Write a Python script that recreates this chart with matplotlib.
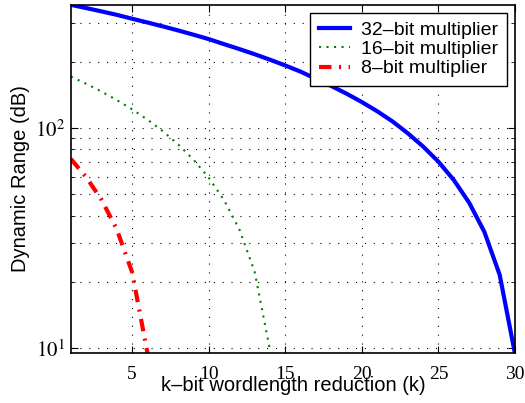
import numpy as np
import matplotlib
matplotlib.use("Agg")
import matplotlib.pyplot as plt
from matplotlib.ticker import LogLocator, NullFormatter

plt.rcParams['font.family'] = ['Liberation Sans', 'DejaVu Sans']
plt.rcParams['mathtext.fontset'] = 'stix'

# values (k = wordlength reduction)
k32 = list(range(1, 31))
dr32 = [362, 350, 338, 326, 313, 301, 289, 277, 265, 253,
        240, 228, 216, 204, 192, 180, 167, 155, 143, 131,
        119, 107, 94.5, 82.3, 70.2, 58.0, 45.8, 33.7, 21.5, 9.4]
k16 = list(range(1, 15))
dr16 = [171, 158.6, 146.2, 133.8, 121.4, 109, 96.6, 84.2, 71.8, 59.4,
        47.0, 34.6, 22.2, 9.8]
k8 = list(range(1, 7))
dr8 = [72.3, 59.7, 47.2, 34.6, 22.1, 9.5]

labels = ['32–bit multiplier', '16–bit multiplier', '8–bit multiplier']
xticks = [5, 10, 15, 20, 25, 30]

fig = plt.figure(figsize=(5.25, 4.03), dpi=100)
ax = fig.add_axes([0.135, 0.124, 0.846, 0.864])

ax.semilogy(k32, dr32, color='#0000ff', lw=3, label=labels[0])
ax.semilogy(k16, dr16, color='#008000', lw=1.5, dashes=(1, 2.6), label=labels[1])
ax.semilogy(k8, dr8, color='#ff0000', lw=3, dashes=(3, 1.8, 0.5, 1.8), label=labels[2])

ax.set_xlim(1, 30)
ax.set_ylim(9.5, 362)
ax.set_xticks(xticks)
ax.set_xticklabels([str(t) for t in xticks], family='Liberation Serif', fontsize=14)
ax.set_yticks([10, 100])
ax.set_yticklabels(['$10^{1}$', '$10^{2}$'], fontsize=15)
ax.yaxis.set_minor_locator(LogLocator(base=10, subs=np.arange(2, 10)))
ax.yaxis.set_minor_formatter(NullFormatter())

ax.grid(True, which='major', axis='both', color='k', linestyle=(0, (1, 7)), lw=0.8)
ax.grid(True, which='minor', axis='y', color='k', linestyle=(0, (1, 7)), lw=0.8)

ax.tick_params(which='both', direction='in', top=True, right=True)
ax.tick_params(which='major', length=5, width=0.8)
ax.tick_params(axis='x', which='major', pad=9)
ax.tick_params(axis='y', which='major', pad=4)
ax.tick_params(which='minor', length=3, width=0.6)
for s in ax.spines.values():
    s.set_linewidth(1.2)

ax.set_xlabel('k–bit wordlength reduction (k)', fontsize=14.5, labelpad=-5)
ax.set_ylabel('Dynamic Range (dB)', fontsize=14.5, labelpad=4)

leg = ax.legend(loc='upper right', fontsize=14, fancybox=False, framealpha=1,
                edgecolor='k', borderpad=0.45, labelspacing=0.08,
                handlelength=1.6, handletextpad=0.6, borderaxespad=0.4)
leg.get_frame().set_linewidth(1.0)

fig.savefig('out.png', dpi=100)
